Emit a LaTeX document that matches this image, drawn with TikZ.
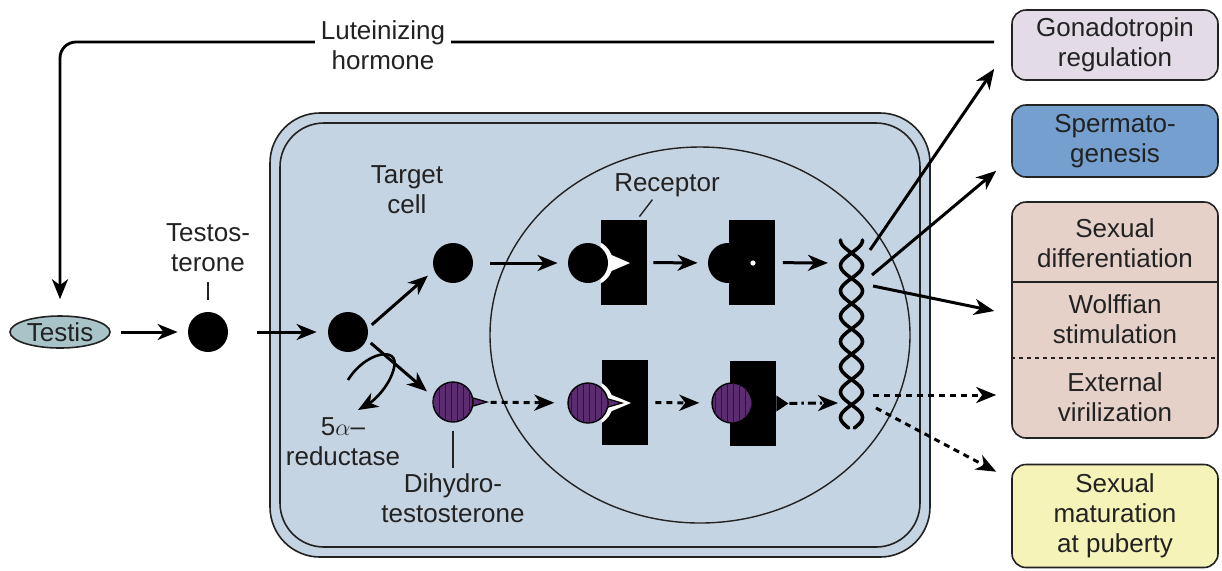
\documentclass[tikz,border=0pt]{standalone}
\usepackage{fontspec}
\setmainfont{Liberation Sans}
\usetikzlibrary{arrows.meta,calc,patterns,shapes.geometric}
\definecolor{cellfill}{HTML}{C5D4E3}
\definecolor{testisfill}{HTML}{A9C4C8}
\definecolor{gonadfill}{HTML}{E3DCE7}
\definecolor{spermfill}{HTML}{749FCF}
\definecolor{pinkfill}{HTML}{E6D1C9}
\definecolor{yellowfill}{HTML}{F6F3B9}
\definecolor{dhtpurple}{HTML}{5C2C70}
\definecolor{dhtstripe}{HTML}{2E1238}
\definecolor{ink}{HTML}{222222}
\tikzset{
  >={Stealth[length=10pt,width=8pt,inset=3pt]},
}
\tikzstyle{flow}=[line width=1.5pt,->]
\tikzstyle{dotflow}=[flow,dash pattern=on 3pt off 2.5pt]
\tikzstyle{dashdotflow}=[flow,dash pattern=on 4pt off 2pt on 1.2pt off 2pt]
\tikzstyle{pointer}=[line width=0.7pt,ink]
\tikzstyle{every node}=[font=\fontsize{13pt}{15pt}\selectfont,text=ink,align=center]
\tikzstyle{hormone}=[circle,fill=black,minimum size=20pt,inner sep=0pt]
\tikzstyle{dht}=[circle,draw=black,line width=0.7pt,fill=dhtpurple,minimum size=20pt,inner sep=0pt,
  postaction={pattern=vertical lines,pattern color=dhtstripe}]
\tikzstyle{receptor}=[rectangle,fill=black,minimum width=23pt,minimum height=42.5pt,inner sep=0pt]
\tikzstyle{outbox}=[rectangle,rounded corners=7pt,draw=ink,line width=0.8pt,minimum width=103pt,inner sep=0pt]
\tikzstyle{strand}=[line width=1.8pt,line cap=round]

\begin{document}
\begin{tikzpicture}[x=0.5pt,y=-0.5pt]
    \useasboundingbox (0,0) rectangle (1222,570);
    % target cell and nucleus
    \draw[line width=0.8pt,draw=ink,fill=cellfill,rounded corners=25pt] (270,113) rectangle (930,557);
    \draw[line width=0.8pt,draw=ink,rounded corners=22pt] (280,123) rectangle (920,547);
    \draw[line width=0.7pt,ink] (700,335) ellipse [x radius=105pt,y radius=94pt];
    % outcome boxes
    \node[outbox,fill=gonadfill,minimum height=35pt] (gonad) at (1115,45) {Gonadotropin\\regulation};
    \node[outbox,fill=spermfill,minimum height=36pt] (sperm) at (1115,141) {Spermato-\\genesis};
    \node[outbox,fill=pinkfill,minimum height=118pt] (pink) at (1115,320) {};
    \node (sexdiff) at (1115,243) {Sexual\\differentiation};
    \node (wolff) at (1115,319) {Wolffian\\stimulation};
    \node (extvir) at (1115,397) {External\\virilization};
    \draw[line width=0.8pt,ink] (pink.west |- 0,282) -- (pink.east |- 0,282);
    \draw[line width=0.8pt,ink,dash pattern=on 2pt off 2pt] (pink.west |- 0,358) -- (pink.east |- 0,358);
    \node[outbox,fill=yellowfill,minimum height=51.5pt] (puberty) at (1115,516) {Sexual\\maturation\\at puberty};
    % testis and luteinizing hormone
    \node[ellipse,draw=ink,line width=0.8pt,fill=testisfill,minimum width=50pt,minimum height=16pt,inner sep=0pt]
      (testis) at (60,332) {Testis};
    \draw[flow,line width=1.4pt,rounded corners=8pt,shorten >=8pt] ($(gonad.west)+(-17,-3)$) -| (testis.north);
    \node[fill=white,inner sep=3pt] (lh) at (383,45) {Luteinizing\\hormone};
    % testosterone
    \node[hormone] (testo) at (208,332) {};
    \node (testolbl) at (208,248) {Testos-\\terone};
    \draw[pointer] ([yshift=6pt]testo.north) -- ++(0,-18);
    \node[hormone] (cellT) at (348,332) {};
    \node[hormone] (freeT) at (453,263) {};
    \node (target) at (407,190) {Target\\cell};
    \filldraw[fill=dhtpurple,line width=0.6pt] (453,402) ++(10,-7) -- ++(24,7) -- ++(-24,7) -- cycle;
    \node[dht] (freeD) at (453,402) {};
    \node (dhtlbl) at (453,498) {Dihydro-\\testosterone};
    \draw[pointer] ([yshift=-4pt]freeD.south) -- ++(0,37);
    \node (reduct) at (343,442) {5$\alpha$–\\reductase};
    \draw[line width=1.3pt,->] (348,380) .. controls (365,352) and (400,345) .. (394,368)
      .. controls (390,385) and (375,400) .. (358,410);
    % receptors
    \node[receptor] (recA) at (624,262.5) {};
    \node[hormone] (boundT) at (728,263) {};
    \node[receptor] (recB) at (751.5,262.5) {};
    \fill[white] (753,263) circle[radius=1.3pt];
    \node[receptor] (recC) at (625,402.5) {};
    \node[receptor] (recD) at (753,403.5) {};
    \node (reclbl) at (667,185) {Receptor};
    \draw[pointer] ([shift={(-8,-3)}]recA.north east) -- ++(13,-17);
    \begin{scope}
      \clip (recA.south west) rectangle (recA.north east);
      \fill[white] (590,263) circle[radius=11.5pt];
      \fill[white] (600,250) -- (630,263) -- (600,276) -- cycle;
    \end{scope}
    \node[hormone] (boundT1) at (588,263) {};
    \begin{scope}
      \clip (recC.south west) rectangle (recC.north east);
      \fill[white] (590,403) circle[radius=11.5pt];
      \fill[white] (600,390) -- (631,403) -- (600,416) -- cycle;
    \end{scope}
    \filldraw[fill=dhtpurple,line width=0.6pt] (588,403) ++(10,-7) -- ++(24,7) -- ++(-24,7) -- cycle;
    \node[dht] (boundD1) at (588,403) {};
    \fill (recD.east) ++(0,-8) -- ++(12,8) -- ++(-12,8) -- cycle;
    \node[dht] (boundD2) at (732,403) {};
    % DNA
    \draw[strand] plot[domain=240:428,samples=90,smooth] ({851.5+11*sin(7.115*(\x-253))},{\x});
    \draw[strand] plot[domain=240:428,samples=90,smooth] ({851.5-11*sin(7.115*(\x-253))},{\x});
    \coordinate (dnaT) at (840,263);
    \coordinate (dnaD) at (840,403);
    \coordinate (outA) at (870,250);
    \coordinate (outB) at (872,275);
    \coordinate (outC) at (873,286);
    \coordinate (outD) at (873,395);
    \coordinate (outE) at (876,408);
    % pathway arrows
    \draw[flow,shorten <=5pt,shorten >=5pt] (testis) -- (testo);
    \draw[flow,shorten <=14.5pt,shorten >=5.5pt] (testo) -- (cellT);
    \draw[flow,shorten <=2.5pt,shorten >=4pt] (cellT.11) -- (freeT.201);
    \draw[flow,shorten <=2.5pt,shorten >=4pt] (cellT.-22) -- (freeD.165);
    \draw[flow,shorten <=8.5pt,shorten >=5pt] (freeT) -- (boundT1);
    \draw[flow,shorten <=3pt,shorten >=5pt] (recA) -- (boundT);
    \draw[flow,shorten <=4pt,shorten >=6pt] (recB) -- (dnaT);
    \draw[dotflow,shorten <=8.5pt,shorten >=6.5pt] (freeD) -- (boundD1);
    \draw[dotflow,shorten <=3.5pt,shorten >=6pt] (recC) -- (boundD2);
    \draw[dashdotflow,shorten <=6.5pt,shorten >=1pt] (recD) -- (dnaD);
    \draw[flow] (outA) -- ($(gonad.south west)+(-17,-12)$);
    \draw[flow] (outB) -- ($(sperm.south west)+(-15,-7)$);
    \draw[flow] (outC) -- ($(pink.west)+(-17,-9)$);
    \draw[dotflow] (outD) -- ($(pink.west)+(-15,75)$);
    \draw[dotflow] (outE) -- ($(puberty.north west)+(-15,8)$);
\end{tikzpicture}
\end{document}
